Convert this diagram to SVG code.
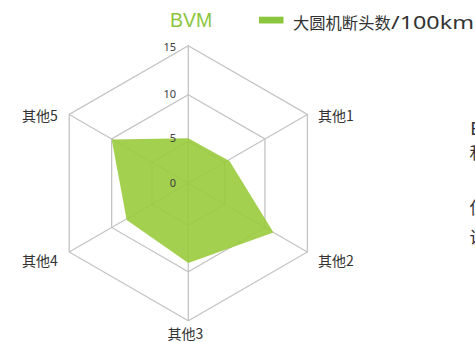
<svg xmlns="http://www.w3.org/2000/svg" width="475" height="342" viewBox="0 0 475 342">
<style>
.grid{fill:none;stroke:#c4c4c4;stroke-width:1.3}
.tick{font-family:"Noto Sans","Liberation Sans",sans-serif;font-size:11px;fill:#404040;text-anchor:end}
.cat{font-family:"Noto Sans CJK SC","Noto Sans",sans-serif;font-size:14px;fill:#333}
.side{font-family:"Noto Sans CJK SC","Noto Sans",sans-serif;font-size:17px;fill:#333}
</style>
<rect width="475" height="342" fill="#fff"/>
<g id="grid">
<polygon class="grid" points="188.3,45.7 307.4,114.45 307.4,251.95 188.3,320.7 69.2,251.95 69.2,114.45"/>
<polygon class="grid" points="188.3,94.7 264.94,138.95 264.94,227.45 188.3,271.7 111.66,227.45 111.66,138.95"/>
<polygon class="grid" points="188.3,141.2 224.67,162.2 224.67,204.2 188.3,225.2 151.93,204.2 151.93,162.2"/>
</g>
<g id="connectors">
<path class="grid" d="M188.3,183.2L188.3,45.7M188.3,183.2L307.4,114.45M188.3,183.2L307.4,251.95M188.3,183.2L188.3,320.7M188.3,183.2L69.2,251.95M188.3,183.2L69.2,114.45"/>
</g>
<g id="series">
<polygon points="188.3,138.3 229.5,161 273.5,232.5 188.3,263 126.7,220 111.7,139.5" fill="#9acb3c" fill-opacity="0.9"/>
</g>
<g id="axis-labels">
<text class="tick" x="176" y="50.7">15</text>
<text class="tick" x="176" y="98.3">10</text>
<text class="tick" x="176" y="141.7">5</text>
<text class="tick" x="176" y="186.7">0</text>
</g>
<g id="cat1"><text class="cat" x="318" y="121">其他1</text></g>
<g id="cat2"><text class="cat" x="318" y="265.5">其他2</text></g>
<g id="cat3"><text class="cat" x="185.5" y="339" text-anchor="middle">其他3</text></g>
<g id="cat4"><text class="cat" x="22" y="266">其他4</text></g>
<g id="cat5"><text class="cat" x="22" y="121">其他5</text></g>
<g id="title"><text x="170" y="27.3" font-family="Liberation Sans,sans-serif" font-size="19.5" fill="#8cc63e">BVM</text></g>
<g id="legend">
<rect x="259" y="16.7" width="24.5" height="6.8" fill="#8cc63e"/>
<text y="28.5" font-family="Noto Sans CJK SC,Noto Sans,sans-serif" fill="#333"><tspan x="293" font-size="16.3">大圆机断头数</tspan><tspan x="391" font-size="18" textLength="83" lengthAdjust="spacingAndGlyphs" font-family="Noto Sans,sans-serif">/100km</tspan></text>
</g>
<g id="side-text">
<text x="470.5" y="135" font-family="Liberation Sans,sans-serif" font-size="18" fill="#333">B</text>
<text class="side" x="469.5" y="159">和</text>
<text class="side" x="469.5" y="214">但</text>
<text class="side" x="469.5" y="244">说</text>
</g>
</svg>
